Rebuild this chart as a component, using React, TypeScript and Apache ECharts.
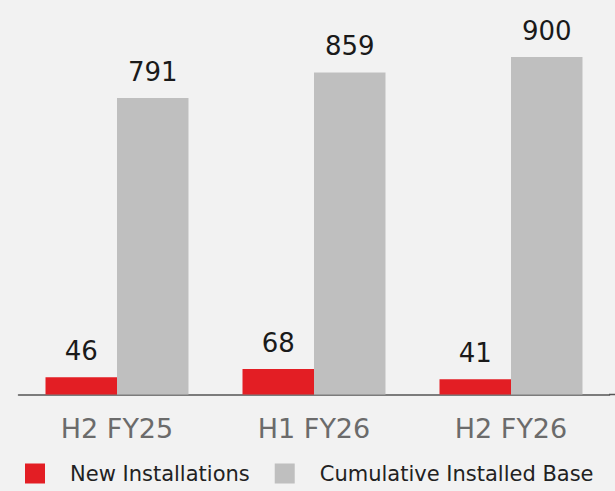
import React, { useEffect, useRef } from "react";
import * as echarts from "echarts";

const categories = ["H2 FY25", "H1 FY26", "H2 FY26"];
const newInstallations = [46, 68, 41];
const cumulativeBase = [791, 859, 900];
const seriesNames = ["New Installations", "Cumulative Installed Base"];

const FONT = "'DejaVu Sans', 'Open Sans', sans-serif";

export default function App() {
  const ref = useRef<HTMLDivElement>(null);
  useEffect(() => {
    if (!ref.current) return;
    const chart = echarts.init(ref.current, null, { renderer: "svg" });
    const labelStyle = {
      show: true,
      position: "top",
      distance: 13,
      fontSize: 26,
      color: "#1a1a1a",
      fontFamily: FONT,
    };
    chart.setOption({
      animation: false,
      backgroundColor: "#f2f2f2",
      textStyle: { fontFamily: FONT },
      grid: { left: 18.5, right: 5.5, top: 57, bottom: 96.5, containLabel: false },
      legend: {
        left: 25,
        top: 463,
        padding: 0,
        itemWidth: 20,
        itemHeight: 20,
        itemGap: 25,
        icon: "rect",
        textStyle: { fontSize: 21, color: "#222", fontFamily: FONT, padding: [0, 0, 0, 20] },
        data: seriesNames,
      },
      xAxis: {
        type: "category",
        data: categories,
        axisLine: { show: true, lineStyle: { color: "#555", width: 1.5 } },
        axisTick: { show: false },
        axisLabel: { fontSize: 27, color: "#6b6b6b", margin: 20, fontFamily: FONT },
      },
      yAxis: {
        type: "value",
        min: 0,
        max: 900,
        show: false,
        splitLine: { show: false },
      },
      graphic: [
        {
          type: "line",
          shape: { x1: 609, y1: 394.5, x2: 615, y2: 394.5 },
          style: { stroke: "#555", lineWidth: 1.5 },
        },
      ],
      series: [
        {
          name: seriesNames[0],
          type: "bar",
          data: newInstallations,
          barWidth: 71.5,
          barGap: "0%",
          itemStyle: { color: "#e31e24" },
          label: labelStyle,
        },
        {
          name: seriesNames[1],
          type: "bar",
          data: cumulativeBase,
          barWidth: 71.5,
          barGap: "0%",
          itemStyle: { color: "#bfbfbf" },
          label: labelStyle,
        },
      ],
    });
    return () => chart.dispose();
  }, []);
  return (
    <div
      ref={ref}
      style={{ position: "absolute", left: 0, top: 0, width: 615, height: 491 }}
    />
  );
}
